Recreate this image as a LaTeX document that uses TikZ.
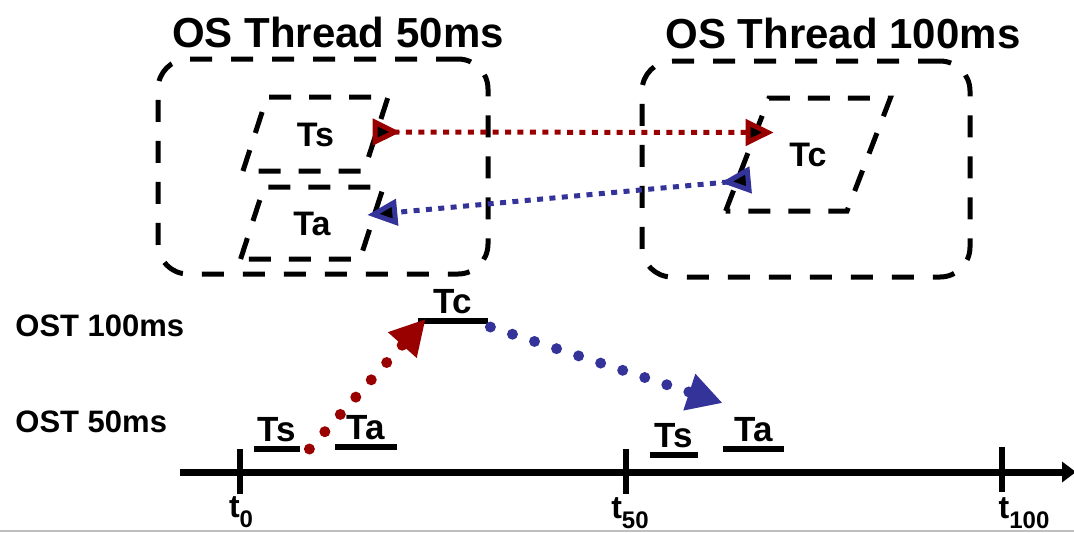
\documentclass[tikz,border=0pt]{standalone}
\usepackage{fontspec}
\setmainfont{Liberation Sans}
\usetikzlibrary{arrows.meta}
\usetikzlibrary{positioning}
\usetikzlibrary{shapes.geometric}
\definecolor{callred}{HTML}{990000}
\definecolor{callblue}{HTML}{333399}
\newcommand{\tsub}[1]{t\raisebox{-5pt}{\fontsize{12}{12}\selectfont #1}}
\tikzset{
    thread_box/.style={
        rectangle,
        draw=black,
        line width=2.5pt,
        dash pattern=on 11pt off 9.5pt,
        rounded corners=15pt,
        inner sep=0pt
    },
    task_box/.style={
        trapezium,
        trapezium left angle=72,
        trapezium right angle=108,
        draw=black,
        line width=2.5pt,
        dash pattern=on 11pt off 9pt,
        inner sep=0pt,
        align=center,
        font=\fontsize{17}{17}\selectfont\bfseries
    }
}

\begin{document}
\begin{tikzpicture}[
    x=0.5pt, y=-0.5pt,
    title_text/.style={font=\fontsize{21}{21}\selectfont\bfseries, inner sep=0pt},
    ost_text/.style={font=\fontsize{15.5}{15.5}\selectfont\bfseries, inner sep=0pt, anchor=west},
    run_bar/.style={rectangle, fill=black, inner sep=0pt, minimum height=3.2pt},
    run_text/.style={font=\fontsize{17.5}{17.5}\selectfont\bfseries, inner sep=1.5pt},
    tick_bar/.style={rectangle, fill=black, inner sep=0pt, minimum width=3pt, minimum height=22.5pt},
    tick_text/.style={font=\fontsize{16}{16}\selectfont\bfseries, inner sep=0pt},
    call_link/.style={line width=2.5pt, dash pattern=on 3pt off 3.2pt},
    switch_link/.style={line width=5.5pt, line cap=round, dash pattern=on 0pt off 11.6pt,
        -{Triangle[length=17.5pt, width=18pt]}}
]
    \useasboundingbox (0,0) rectangle (1074,532);

    % Threads
    \node (th50) [thread_box, minimum width=165pt, minimum height=107.5pt] at (323,166.5) {};
    \node (th100) [thread_box, minimum width=164pt, minimum height=108pt] at (806,169) {};
    \node (tt50) [title_text] at (338,32) {OS Thread 50ms};
    \node (tt100) [title_text] at (843,33) {OS Thread 100ms};

    % Tasks
    \node (ts) [task_box, text width=48.5pt, text height=24.6pt, text depth=12.4pt] at (315.5,134) {Ts};
    \node (ta) [task_box, text width=48pt, text height=24.1pt, text depth=11.9pt] at (312,223) {Ta};
    \node (tc) [task_box, trapezium left angle=69, trapezium right angle=111,
        text width=39pt, text height=34.3pt, text depth=22.2pt] at (808,154.5) {Tc};

    % Calls between threads
    \draw [call_link, callred, {Triangle[reversed, length=14pt, width=13pt, fill=black]}-{Triangle[length=14pt, width=13pt, fill=black]}]
        ([shift={(-3pt,1pt)}]ts.east) -- ([shift={(14.5pt,11pt)}]tc.west);
    \draw [call_link, callblue, {Triangle[reversed, length=15pt, width=13pt, fill=black]}-{Triangle[length=15pt, width=13pt, fill=black]}]
        ([shift={(3pt,-12.7pt)}]tc.west) -- ([shift={(-3.5pt,4pt)}]ta.east);

    % Timeline
    \node (ost100) [ost_text] at (15,326) {OST 100ms};
    \node (ost50) [ost_text] at (15,422) {OST 50ms};
    \coordinate (ax0) at (180,472);
    \coordinate (ax1) at (1076,472);
    \draw [line width=3.5pt, -{Triangle[length=7pt, width=10pt]}] (ax0) -- (ax1);

    \node (k0) [tick_bar] at (240,471.5) {};
    \node (k50) [tick_bar] at (626,471) {};
    \node (k100) [tick_bar] at (1002,469.5) {};
    \node (l0) [tick_text] at (241,512) {\tsub{0}};
    \node (l50) [tick_text] at (630,513) {\tsub{50}};
    \node (l100) [tick_text] at (1024,513) {\tsub{100}};

    % Runs
    \node (bs1) [run_bar, minimum width=23pt] at (277,449) {};
    \node (ba1) [run_bar, minimum width=31pt] at (366,447) {};
    \node (bc) [run_bar, minimum width=35pt] at (453,321) {};
    \node (bs2) [run_bar, minimum width=24pt] at (674,455) {};
    \node (ba2) [run_bar, minimum width=30.5pt] at (753.5,449) {};
    \node (rs1) [run_text, above=0pt of bs1] {Ts};
    \node (ra1) [run_text, above=0pt of ba1] {Ta};
    \node (rc) [run_text, above=0pt of bc] {Tc};
    \node (rs2) [run_text, above=0pt of bs2] {Ts};
    \node (ra2) [run_text, above=0pt of ba2] {Ta};

    % Switches
    \draw [switch_link, callred] ([xshift=4.5pt]bs1.east) -- ([shift={(4pt,1pt)}]bc.west);
    \draw [switch_link, callblue] ([shift={(1pt,-3pt)}]bc.east) -- ([yshift=23pt]ba2.west);

    \draw [gray!50, line width=1pt] (0,531) -- (1074,531);
\end{tikzpicture}
\end{document}
